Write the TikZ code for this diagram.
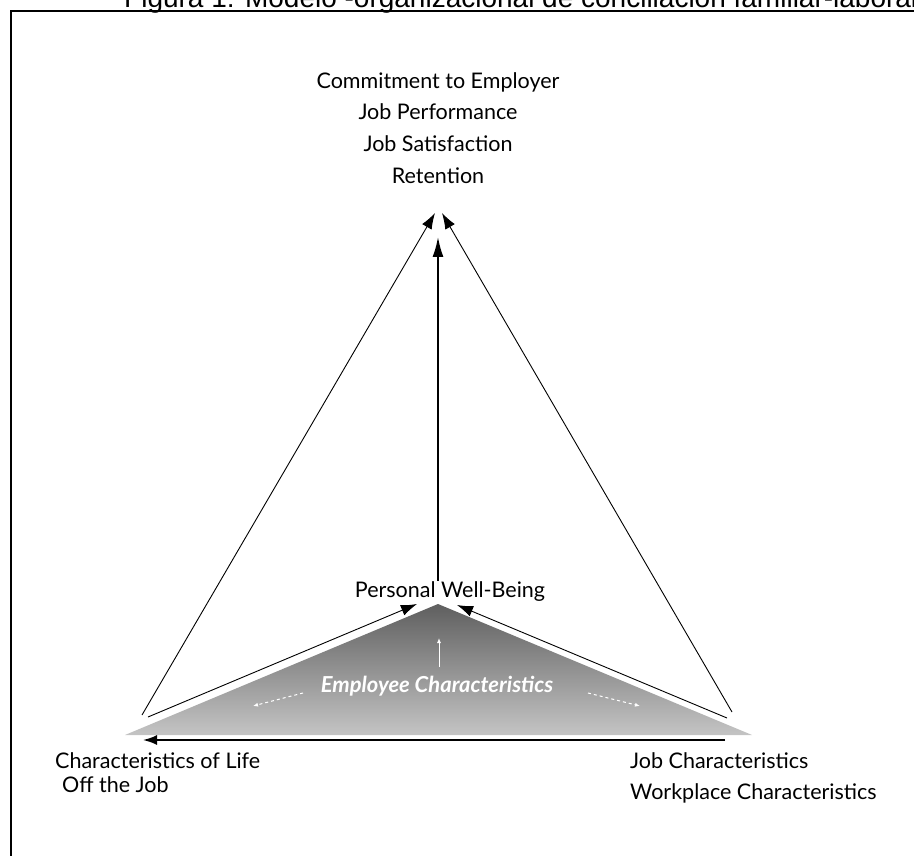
\documentclass[tikz,border=0pt]{standalone}
\usepackage{fontspec}
\setmainfont{Lato}
\newfontfamily\titlefont{Liberation Sans}
\usetikzlibrary{arrows.meta}
\definecolor{apexgray}{RGB}{95,95,95}
\definecolor{basegray}{RGB}{196,196,196}

\begin{document}
\begin{tikzpicture}[x=1pt,y=-1pt,>=Latex]
\tikzstyle{lbl}=[inner sep=0pt,font=\fontsize{21.5}{31.7}\selectfont]
\tikzstyle{thinarrow}=[->,line width=0.9pt,>={Latex[length=16pt,width=11pt]}]
\tikzstyle{whitearrow}=[->,white,line width=1pt,>={Latex[length=5pt,width=4pt]}]
\useasboundingbox (0,0) rectangle (914,856);
% title (cut by the page edge) and frame
\node[anchor=base west,inner sep=0pt,font=\titlefont\fontsize{28}{28}\selectfont] (title) at (124,8) {Figura 1: Modelo -organizacional de conciliación familiar-laboral};
\draw[line width=2pt] (11,11) rectangle (940,880);
% shaded triangle
\coordinate (apex) at (438,604);
\coordinate (bl) at (125,735);
\coordinate (br) at (752,735);
\shade[top color=apexgray,bottom color=basegray] (apex) -- (br) -- (bl) -- cycle;
% texts
\node[lbl,align=center,anchor=north] (out) at (438,72) {Commitment to Employer\\Job Performance\\Job Satisfaction\\Retention};
\node[lbl,anchor=base] (pwb) at (450,597) {Personal Well-Being};
\node[lbl,align=left,anchor=north west] (life) at (55,752) {Characteristics of Life\\[-7pt]\hspace{7pt}Off the Job};
\node[lbl,align=left,anchor=north west] (job) at (630,752) {Job Characteristics\\Workplace Characteristics};
\node[anchor=base,inner sep=0pt,text=white,font=\bfseries\itshape\fontsize{22}{22}\selectfont] (emp) at (437,692) {Employee Characteristics};
% arrows to the outcomes
\coordinate (lfoot) at (142,715); \coordinate (ltip) at (435,213);
\coordinate (rfoot) at (732,712); \coordinate (rtip) at (442,213);
\coordinate (vtip) at (438,237);
\draw[thinarrow] (lfoot) -- (ltip);
\draw[thinarrow] (rfoot) -- (rtip);
\draw[->,line width=1.8pt,>={Latex[length=20pt,width=11pt]}] (pwb.north -| vtip) -- (vtip);
% arrows along the triangle
\coordinate (la) at (148,717); \coordinate (lb) at (417,604);
\coordinate (ra) at (727,718); \coordinate (rb) at (457,605);
\coordinate (ba) at (725,740); \coordinate (bb) at (143,740);
\draw[thinarrow] (la) -- (lb);
\draw[thinarrow] (ra) -- (rb);
\draw[->,line width=1.8pt,>={Latex[length=14pt,width=10pt]}] (ba) -- (bb);
% white arrows inside
\coordinate (wa) at (439,667); \coordinate (wb) at (439,638);
\coordinate (wl1) at (303,693); \coordinate (wl2) at (253,706);
\coordinate (wr1) at (588,693); \coordinate (wr2) at (640,706);
\draw[whitearrow] (wa) -- (wb);
\draw[whitearrow,dashed] (wl1) -- (wl2);
\draw[whitearrow,dashed] (wr1) -- (wr2);
\end{tikzpicture}
\end{document}
